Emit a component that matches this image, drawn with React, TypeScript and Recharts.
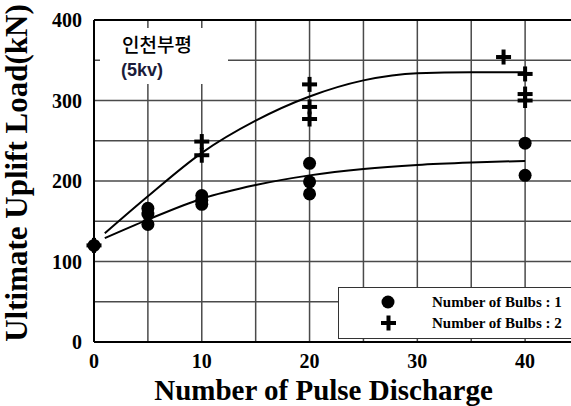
import React from "react";
import {
  ComposedChart,
  Scatter,
  Line,
  XAxis,
  YAxis,
  ReferenceLine,
} from "recharts";

// measured points (pulse discharge count, uplift load kN)
const bulbs1X = [0, 5, 5, 5, 10, 10, 10, 20, 20, 20, 40, 40];
const bulbs1Y = [120, 166, 159, 146, 182, 176, 171, 222, 199, 184, 247, 207];
const bulbs2X = [0, 10, 10, 20, 20, 20, 38, 40, 40, 40];
const bulbs2Y = [120, 249, 232, 320, 292, 277, 354, 333, 308, 300];

// fitted trend curves
const fitX = [1, 5, 10, 15, 20, 25, 30, 35, 40];
const fit1Y = [129, 152, 178, 195, 207, 215, 220, 223, 225];
const fit2Y = [135, 181, 235, 275, 305, 325, 334, 335, 335];

const xTicks = [0, 10, 20, 30, 40];
const yTicks = [0, 100, 200, 300, 400];
const xGrid = [5, 10, 15, 20, 25, 30, 35, 40, 45];
const yGrid = [50, 100, 150, 200, 250, 300, 350];

const bulbs1 = bulbs1X.map((x, i) => ({ x, y: bulbs1Y[i] }));
const bulbs2 = bulbs2X.map((x, i) => ({ x, y: bulbs2Y[i] }));
const fit1 = fitX.map((x, i) => ({ x, y: fit1Y[i] }));
const fit2 = fitX.map((x, i) => ({ x, y: fit2Y[i] }));

const serif = "'Liberation Serif', 'Times New Roman', serif";

const Dot = (props: any) => {
  const { cx, cy } = props;
  return <circle cx={cx} cy={cy} r={6.5} fill="#000" />;
};

const Cross = (props: any) => {
  const { cx, cy } = props;
  return (
    <g fill="#000">
      <rect x={cx - 7.5} y={cy - 2} width={15} height={4} />
      <rect x={cx - 2} y={cy - 7.5} width={4} height={15} />
    </g>
  );
};

export default function App() {
  return (
    <div
      style={{
        position: "absolute",
        left: 0,
        top: 0,
        width: 571,
        height: 406,
        overflow: "hidden",
        background: "#fff",
      }}
    >
      <ComposedChart
        width={590}
        height={406}
        margin={{ top: 20, right: 11, left: 0, bottom: 0 }}
      >
        <XAxis
          type="number"
          dataKey="x"
          domain={[0, 45]}
          ticks={xTicks}
          tickLine={false}
          tickMargin={6}
          axisLine={{ stroke: "#000", strokeWidth: 2 }}
          tick={{ fill: "#000", fontSize: 20, fontWeight: 700, fontFamily: serif }}
          height={64}
          label={{
            value: "Number of Pulse Discharge",
            position: "insideBottom",
            offset: 6,
            dx: -13,
            fill: "#000",
            fontSize: 29,
            fontWeight: 700,
            fontFamily: serif,
          }}
        />
        <YAxis
          type="number"
          dataKey="y"
          domain={[0, 400]}
          ticks={yTicks}
          tickLine={false}
          tickMargin={6}
          width={94}
          axisLine={{ stroke: "#000", strokeWidth: 2 }}
          tick={{ fill: "#000", fontSize: 20, fontWeight: 700, fontFamily: serif }}
          label={{
            value: "Ultimate Uplift Load(kN)",
            angle: -90,
            position: "insideLeft",
            offset: 16,
            dy: -8,
            fill: "#000",
            fontSize: 31,
            fontWeight: 700,
            fontFamily: serif,
            style: { textAnchor: "middle" },
          }}
        />
        {xGrid.map((v) => (
          <ReferenceLine key={"vx" + v} x={v} stroke="#4a4a4a" strokeWidth={1.5} />
        ))}
        {yGrid.map((v) => (
          <ReferenceLine key={"hy" + v} y={v} stroke="#4a4a4a" strokeWidth={1.5} />
        ))}
        <ReferenceLine y={400} stroke="#000" strokeWidth={2} />
        <Line
          data={fit1}
          dataKey="y"
          type="monotone"
          stroke="#000"
          strokeWidth={2}
          dot={false}
          activeDot={false}
          isAnimationActive={false}
        />
        <Line
          data={fit2}
          dataKey="y"
          type="monotone"
          stroke="#000"
          strokeWidth={2}
          dot={false}
          activeDot={false}
          isAnimationActive={false}
        />
        <Scatter data={bulbs1} shape={<Dot />} isAnimationActive={false} />
        <Scatter data={bulbs2} shape={<Cross />} isAnimationActive={false} />
      </ComposedChart>

      {/* site label box */}
      <div
        style={{
          position: "absolute",
          left: 100,
          top: 28,
          width: 128,
          height: 56,
          background: "#fff",
        }}
      >
        <div
          style={{
            position: "absolute",
            left: 22,
            top: 5,
            fontFamily: "'Noto Sans CJK KR', sans-serif",
            fontSize: 19,
            fontWeight: 500,
            color: "#000",
            lineHeight: "22px",
          }}
        >
          인천부평
        </div>
        <div
          style={{
            position: "absolute",
            left: 21,
            top: 32,
            fontFamily: "Arial, 'Liberation Sans', sans-serif",
            fontSize: 18,
            fontWeight: 700,
            color: "#1b1b3a",
            lineHeight: "20px",
          }}
        >
          (5kv)
        </div>
      </div>

      {/* legend */}
      <div
        style={{
          position: "absolute",
          left: 338,
          top: 287,
          width: 250,
          height: 52,
          background: "#fff",
          border: "1px solid #333",
          boxSizing: "border-box",
        }}
      >
        <svg width={60} height={50} style={{ position: "absolute", left: 20, top: 0 }}>
          <circle cx={29} cy={14} r={6.5} fill="#000" />
          <g fill="#000">
            <rect x={22} y={33} width={15} height={4} />
            <rect x={27.5} y={27.5} width={4} height={15} />
          </g>
        </svg>
        <div
          style={{
            position: "absolute",
            left: 93,
            top: 4,
            fontFamily: serif,
            fontWeight: 700,
            fontSize: 15,
            lineHeight: "21px",
            color: "#000",
            whiteSpace: "nowrap",
          }}
        >
          <div>Number of Bulbs : 1</div>
          <div>Number of Bulbs : 2</div>
        </div>
      </div>
    </div>
  );
}
